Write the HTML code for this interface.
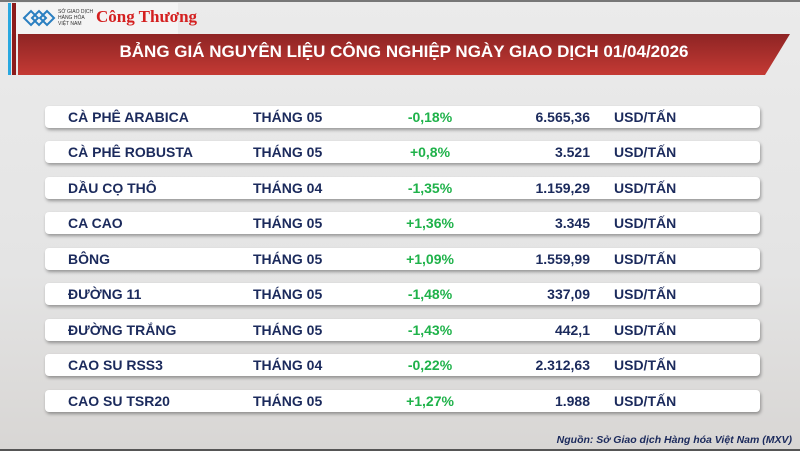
<!DOCTYPE html><html><head><meta charset="utf-8"><style>
body{margin:0;width:800px;height:451px;overflow:hidden;font-family:"Liberation Sans",sans-serif;}
#c{position:relative;width:800px;height:451px;background:linear-gradient(#ebebeb,#e4e4e4 60%,#d8d6d4);}
.row{position:absolute;left:45px;width:715px;height:22px;background:#fff;border-radius:4px;box-shadow:1px 2px 3px rgba(0,0,0,.35);color:#1b2a5c;font-weight:bold;font-size:14px;line-height:22px;}
.row span{position:absolute;top:0;white-space:nowrap}
.n{left:23px}.m{left:208px}.p{left:340px;width:90px;text-align:center;color:#1fb24a}.v{right:170px}.u{left:569px}
</style></head><body><div id="c">
<div style="position:absolute;left:0;top:0;width:800px;height:2px;background:#777"></div>
<div style="position:absolute;left:8px;top:3px;width:170px;height:31px;background:#f4f4f4"></div>
<div style="position:absolute;left:8px;top:3px;width:3px;height:72px;background:#29a8e0"></div>
<div style="position:absolute;left:12px;top:3px;width:4px;height:72px;background:#8b1c1c"></div>
<svg style="position:absolute;left:22px;top:9px" width="34" height="18"><g fill="none" stroke="#2a7fc1" stroke-width="2"><path d="M2 9 L9 2 L16 9 L9 16Z M10 9 L17 2 L24 9 L17 16Z M18 9 L25 2 L32 9 L25 16Z"/></g></svg>
<div style="position:absolute;left:58px;top:9px;font-size:5px;line-height:6px;color:#333">SỞ GIAO DỊCH<br>HÀNG HÓA<br>VIỆT NAM</div>
<div style="position:absolute;left:96px;top:7px;font-family:'Liberation Serif',serif;font-weight:bold;font-size:17px;color:#d42020">Công Thương</div>
<svg style="position:absolute;left:18px;top:34px" width="773" height="41"><defs><linearGradient id="g" x1="0" y1="0" x2="0" y2="1"><stop offset="0" stop-color="#8e2424"/><stop offset="1" stop-color="#c43a34"/></linearGradient></defs><polygon points="0,0 772,0 747,41 0,41" fill="url(#g)"/></svg>
<div style="position:absolute;left:18px;top:34px;width:772px;height:41px;line-height:35px;text-align:center;color:#fff;font-weight:bold;font-size:17px;letter-spacing:0px">BẢNG GIÁ NGUYÊN LIỆU CÔNG NGHIỆP NGÀY GIAO DỊCH 01/04/2026</div>
<div class="row" style="top:106px"><span class="n">CÀ PHÊ ARABICA</span><span class="m">THÁNG 05</span><span class="p">-0,18%</span><span class="v">6.565,36</span><span class="u">USD/TẤN</span></div>
<div class="row" style="top:141px"><span class="n">CÀ PHÊ ROBUSTA</span><span class="m">THÁNG 05</span><span class="p">+0,8%</span><span class="v">3.521</span><span class="u">USD/TẤN</span></div>
<div class="row" style="top:177px"><span class="n">DẦU CỌ THÔ</span><span class="m">THÁNG 04</span><span class="p">-1,35%</span><span class="v">1.159,29</span><span class="u">USD/TẤN</span></div>
<div class="row" style="top:212px"><span class="n">CA CAO</span><span class="m">THÁNG 05</span><span class="p">+1,36%</span><span class="v">3.345</span><span class="u">USD/TẤN</span></div>
<div class="row" style="top:248px"><span class="n">BÔNG</span><span class="m">THÁNG 05</span><span class="p">+1,09%</span><span class="v">1.559,99</span><span class="u">USD/TẤN</span></div>
<div class="row" style="top:283px"><span class="n">ĐƯỜNG 11</span><span class="m">THÁNG 05</span><span class="p">-1,48%</span><span class="v">337,09</span><span class="u">USD/TẤN</span></div>
<div class="row" style="top:319px"><span class="n">ĐƯỜNG TRẮNG</span><span class="m">THÁNG 05</span><span class="p">-1,43%</span><span class="v">442,1</span><span class="u">USD/TẤN</span></div>
<div class="row" style="top:354px"><span class="n">CAO SU RSS3</span><span class="m">THÁNG 04</span><span class="p">-0,22%</span><span class="v">2.312,63</span><span class="u">USD/TẤN</span></div>
<div class="row" style="top:390px"><span class="n">CAO SU TSR20</span><span class="m">THÁNG 05</span><span class="p">+1,27%</span><span class="v">1.988</span><span class="u">USD/TẤN</span></div>
<div style="position:absolute;right:8px;top:434px;font-size:10.5px;font-weight:bold;font-style:italic;color:#1b2a5c">Nguồn: Sở Giao dịch Hàng hóa Việt Nam (MXV)</div>
<div style="position:absolute;left:0;top:449px;width:800px;height:2px;background:#555"></div>
</div></body></html>
